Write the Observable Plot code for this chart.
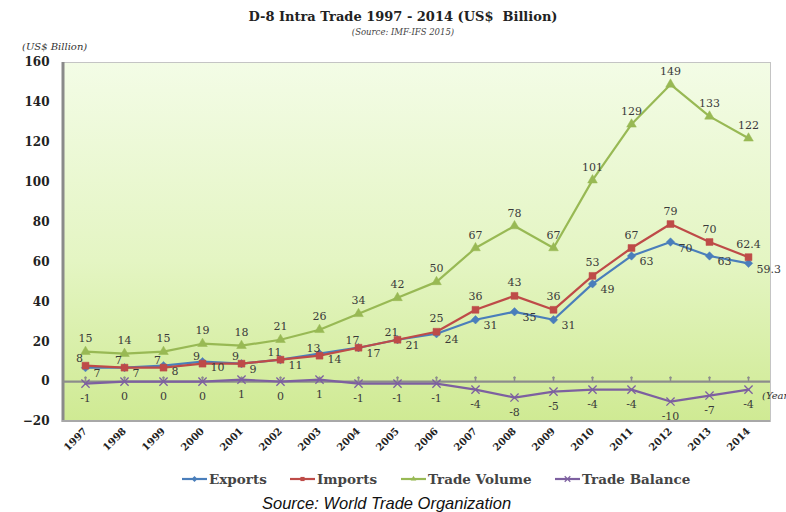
<!DOCTYPE html>
<html><head><meta charset="utf-8">
<script src="https://cdn.jsdelivr.net/npm/d3@7"></script>
<script src="https://cdn.jsdelivr.net/npm/@observablehq/plot@0.6"></script>
<style>
body{margin:0;background:#fff;}
#wrap{position:relative;width:786px;height:512px;overflow:hidden;font-family:"DejaVu Serif",serif;color:#333;}
#chart{position:absolute;left:0;top:0;}
.abs{position:absolute;white-space:nowrap;}
#title{left:0;width:806px;top:9px;text-align:center;font-weight:bold;font-size:13px;color:#222;}
#subtitle{left:0;width:806px;top:27px;text-align:center;font-style:italic;font-size:8.5px;color:#444;}
#ylabel{left:22px;top:41px;font-style:italic;font-size:10px;color:#333;}
#xlabel{left:762px;top:390px;font-style:italic;font-size:10px;color:#333;}
.leg{position:absolute;top:471px;display:flex;align-items:center;font-weight:bold;font-size:13.5px;color:#444;}
#caption{left:262px;top:494px;font-family:"Liberation Sans",Arial,sans-serif;font-style:italic;font-size:16.5px;color:#111;}
svg [aria-label="y-axis tick label"] text{font-weight:bold;}
svg [aria-label="x-axis tick label"] text{font-weight:bold;}
</style></head>
<body><div id="wrap">
<div id="chart"></div>
<div class="abs" id="title">D-8 Intra Trade 1997 - 2014 (US$&nbsp; Billion)</div>
<div class="abs" id="subtitle">(Source: IMF-IFS 2015)</div>
<div class="abs" id="ylabel">(US$ Billion)</div>
<div class="abs" id="xlabel">(Year)</div>
<div id="legend"></div>
<div class="abs" id="caption">Source: World Trade Organization</div>
</div>
<script>
const years = [1997,1998,1999,2000,2001,2002,2003,2004,2005,2006,2007,2008,2009,2010,2011,2012,2013,2014];
const exportsVals = [7,7,8,10,9,11,14,17,21,24,31,35,31,49,63,70,63,59.3];
const importsVals = [8,7,7,9,9,11,13,17,21,25,36,43,36,53,67,79,70,62.4];
const tradeVolume = [15,14,15,19,18,21,26,34,42,50,67,78,67,101,129,149,133,122];
const tradeBalance = [-1,0,0,0,1,0,1,-1,-1,-1,-4,-8,-5,-4,-4,-10,-7,-4];
const yTicks = [-20,0,20,40,60,80,100,120,140,160];
const seriesNames = ["Exports","Imports","Trade Volume","Trade Balance"];

const seriesList = [
  {name:"Exports", values:exportsVals, color:"#4a7ebb", symbol:"diamond2", r:3.8, label:{dx:8, dy:6, textAnchor:"start"}},
  {name:"Imports", values:importsVals, color:"#be4b48", symbol:"square2", r:4.4, label:{dx:0, dy:-13, textAnchor:"middle"}, crowded:{dx:-6, dy:-7}},
  {name:"Trade Volume", values:tradeVolume, color:"#98b954", symbol:"triangle2", r:4.6, label:{dx:0, dy:-13, textAnchor:"middle"}},
  {name:"Trade Balance", values:tradeBalance, color:"#7d60a0", symbol:"times", r:3.8, label:{dx:0, dy:15, textAnchor:"middle"}}
];
const rowsOf = s => years.map((y,i)=>({year:y, value:s.values[i], series:s.name}));

const defs = () => {
  const g = d3.create("svg:defs");
  const lg = g.append("linearGradient").attr("id","bg").attr("x1",0).attr("y1",0).attr("x2",0).attr("y2",1);
  lg.append("stop").attr("offset","0%").attr("stop-color","#f3fce6");
  lg.append("stop").attr("offset","55%").attr("stop-color","#e4f5c3");
  lg.append("stop").attr("offset","100%").attr("stop-color","#cfea93");
  return g.node();
};
const edges = (index, scales, values, dim) => {
  const g = d3.create("svg:g");
  const x0 = dim.marginLeft, y0 = dim.marginTop, y1 = dim.height - dim.marginBottom, x1 = dim.width - dim.marginRight;
  g.append("line").attr("x1",x0+1).attr("x2",x0+1).attr("y1",y0).attr("y2",y1+1).attr("stroke","#8a8a8a").attr("stroke-width",3);
  g.append("line").attr("x1",x0).attr("x2",x1).attr("y1",y1).attr("y2",y1).attr("stroke","#a8a8a8").attr("stroke-width",2);
  return g.node();
};

const marks = [
  defs,
  Plot.frame({fill:"url(#bg)", stroke:"#c4c4c4"}),
  edges,
  Plot.axisY({ticks:yTicks, tickSize:0, tickPadding:13, fontSize:12, fontWeight:"bold", fill:"#222", label:null}),
  Plot.axisX({tickRotate:-45, tickSize:0, tickPadding:8, fontSize:10, fontWeight:"bold", fill:"#222", label:null, tickFormat:d=>String(d)}),
  Plot.ruleY([0], {stroke:"#8c8c8c", strokeWidth:2.2}),
  Plot.vector(years, {x:d=>d, y:()=>0, length:3.5, rotate:0, anchor:"start", stroke:"#8c8c8c", strokeWidth:1.5, dy:-1})
];
for (const s of seriesList) {
  const rows = rowsOf(s);
  marks.push(Plot.line(rows, {x:"year", y:"value", stroke:s.color, strokeWidth:2.2}));
  if (s.symbol === "times") {
    marks.push(Plot.dot(rows, {x:"year", y:"value", symbol:"times", stroke:s.color, strokeWidth:1.3, r:s.r}));
  } else {
    marks.push(Plot.dot(rows, {x:"year", y:"value", symbol:s.symbol, fill:s.color, stroke:s.color, strokeWidth:0.5, r:s.r}));
  }
}
const textStyle = {x:"year", y:"value", text:d=>String(d.value), fontSize:11, fill:"#3a3a3a", fontFamily:"DejaVu Serif"};
for (const s of seriesList) {
  const rows = rowsOf(s);
  if (s.crowded) {
    // where the series sit close together, labels are nudged up-left (as in the source)
    marks.push(Plot.text(rows.filter(d => d.year < 2006), {...textStyle, dx:s.crowded.dx, dy:s.crowded.dy, textAnchor:"middle"}));
    marks.push(Plot.text(rows.filter(d => d.year >= 2006), {...textStyle, dx:s.label.dx, dy:s.label.dy, textAnchor:s.label.textAnchor}));
  } else {
    marks.push(Plot.text(rows, {...textStyle, dx:s.label.dx, dy:s.label.dy, textAnchor:s.label.textAnchor}));
  }
}

const chart = Plot.plot({
  width:786, height:512,
  marginLeft:62, marginRight:16, marginTop:62, marginBottom:91,
  style:{background:"transparent", fontFamily:"DejaVu Serif", color:"#222"},
  x:{type:"point", domain:years, padding:0.5, label:null},
  y:{domain:[-20,160], label:null},
  marks
});
document.getElementById("chart").append(chart);

// legend
const legendLefts = [182, 290, 401, 555];
const wrap = document.getElementById("wrap");
seriesList.forEach((s, i) => {
  const item = document.createElement("div");
  item.className = "leg";
  item.style.left = legendLefts[i] + "px";
  const sw = d3.create("svg").attr("width",25).attr("height",12);
  sw.append("line").attr("x1",0).attr("x2",25).attr("y1",6).attr("y2",6).attr("stroke",s.color).attr("stroke-width",2.2);
  const sym = {diamond2:d3.symbolDiamond2, square2:d3.symbolSquare2, triangle2:d3.symbolTriangle2, times:d3.symbolTimes}[s.symbol];
  const p = sw.append("path").attr("transform","translate(12.5,6)").attr("d", d3.symbol(sym, 22)());
  if (s.symbol === "times") p.attr("fill","none").attr("stroke",s.color).attr("stroke-width",1.2);
  else p.attr("fill",s.color);
  item.append(sw.node());
  const t = document.createElement("span");
  t.textContent = seriesNames[i];
  t.style.marginLeft = "2px";
  item.append(t);
  wrap.append(item);
});
</script>
</body></html>
